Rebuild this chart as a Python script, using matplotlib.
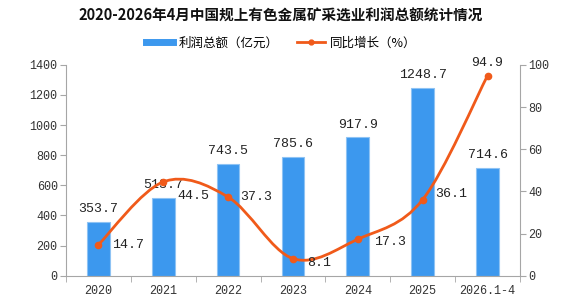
import numpy as np
import matplotlib as mpl
mpl.use('Agg')
import matplotlib.pyplot as plt
from matplotlib.path import Path
from matplotlib.patches import PathPatch
from matplotlib.lines import Line2D

plt.rcParams['font.family'] = ['Noto Sans CJK SC', 'DejaVu Sans']

# data
categories = ["2020", "2021", "2022", "2023", "2024", "2025", "2026.1-4"]
profit = [353.7, 513.7, 743.5, 785.6, 917.9, 1248.7, 714.6]
growth = [14.7, 44.5, 37.3, 8.1, 17.3, 36.1, 94.9]

BAR_COLOR = "#3C98EE"
LINE_COLOR = "#F05A1A"
AXIS_COLOR = "#A6A6A6"
NUM_FONT = "Liberation Mono"


def smooth_path(xs, ys):
    # catmull-rom style bezier, like office "smoothed line"
    pts = np.column_stack([xs, ys]).astype(float)
    n = len(pts)
    verts = [pts[0]]
    codes = [Path.MOVETO]
    for i in range(n - 1):
        p0 = pts[i - 1] if i > 0 else pts[i]
        p1 = pts[i]
        p2 = pts[i + 1]
        p3 = pts[i + 2] if i + 2 < n else pts[i + 1]
        c1 = p1 + (p2 - p0) / 6.0
        c2 = p2 - (p3 - p1) / 6.0
        verts += [c1, c2, p2]
        codes += [Path.CURVE4] * 3
    return Path(verts, codes)


fig = plt.figure(figsize=(5.62, 2.99), dpi=100)
ax = fig.add_axes([0.1174, 0.078, 0.8078, 0.705])
ax2 = ax.twinx()

x = np.arange(len(categories))
bars = ax.bar(x, profit, width=0.35, color=BAR_COLOR, edgecolor="#8EC3F4", linewidth=0.8, zorder=2)

ax.set_xlim(-0.5, len(categories) - 0.5)
ax.set_ylim(0, 1400)
ax.set_yticks(range(0, 1401, 200))
ax2.set_ylim(0, 100)
ax2.set_yticks(range(0, 101, 20))

# bottom ticks between categories
ax.set_xticks(x)
ax.set_xticklabels(categories, fontfamily=NUM_FONT, fontsize=8.5, color="#333333")
ax.set_xticks(np.arange(-0.5, len(categories), 1), minor=True)
ax.tick_params(axis='x', which='major', length=0, pad=7)
ax.tick_params(axis='x', which='minor', length=4, color=AXIS_COLOR, direction='out')

for a in (ax, ax2):
    a.spines['top'].set_visible(False)
    for s in ('left', 'right', 'bottom'):
        a.spines[s].set_color(AXIS_COLOR)
ax.spines['right'].set_visible(False)
ax2.spines['left'].set_visible(False)
ax2.spines['bottom'].set_visible(False)

ax.tick_params(axis='y', length=4, color=AXIS_COLOR, direction='out', pad=2)
ax2.tick_params(axis='y', length=4, color=AXIS_COLOR, direction='out', pad=2)
for lbl in ax.get_yticklabels() + ax2.get_yticklabels():
    lbl.set_fontfamily(NUM_FONT)
    lbl.set_fontsize(8.5)
    lbl.set_color("#333333")

# smooth growth line
patch = PathPatch(smooth_path(x, growth), facecolor='none', edgecolor=LINE_COLOR, linewidth=2, zorder=3)
ax2.add_patch(patch)
ax2.plot(x, growth, linestyle='None', marker='o', markersize=4.5, color=LINE_COLOR, zorder=4)

# bar labels
for xi, v in zip(x, profit):
    ax.annotate(f"{v:.1f}", (xi, v), xytext=(0, 5), textcoords='offset points',
                ha='center', va='bottom', fontfamily=NUM_FONT, fontsize=9.5, color="#222222", zorder=5)

# growth labels
offsets = [(10, 0), (10, -10), (9, 0), (10, -3), (12, -2), (9, 4), (0, 5)]
for xi, v, off in zip(x, growth, offsets):
    if off[0] == 0:
        ha, va = 'center', 'bottom'
    else:
        ha, va = 'left', 'center'
    ax2.annotate(f"{v:.1f}", (xi, v), xytext=off, textcoords='offset points',
                 ha=ha, va=va, fontfamily=NUM_FONT, fontsize=9.5, color="#222222", zorder=5)

fig.text(0.5, 0.948, "2020-2026年4月中国规上有色金属矿采选业利润总额统计情况",
         ha='center', va='center', fontsize=10.5, fontweight='bold', color="#111111")

handles = [Line2D([], [], color=BAR_COLOR, linewidth=5),
           Line2D([], [], color=LINE_COLOR, linewidth=2, marker='o', markersize=3.5)]
fig.legend(handles, ["利润总额（亿元）", "同比增长（%）"], loc='center', bbox_to_anchor=(0.5, 0.856),
           ncol=2, frameon=False, fontsize=9, handlelength=2.2, columnspacing=1.5, handletextpad=0.4)

fig.savefig("out.png", dpi=100)
